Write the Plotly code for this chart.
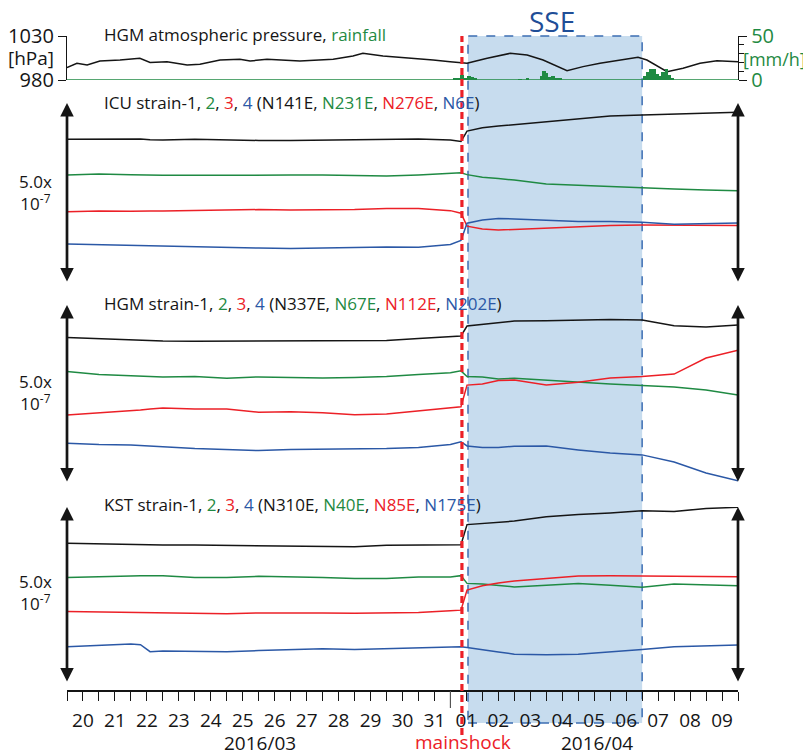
import plotly.graph_objects as go

# ---------------- data ----------------
# time axis: days since 2016/03/20 00:00
days = [0, 1, 2, 2.3, 2.6, 3, 4, 5, 6, 7, 8, 9, 10, 11, 12, 12.33, 12.52,
        13, 13.5, 14, 15, 16, 17, 18, 19, 20, 21]

# strain (relative, x1e-7)
icu_1 = [3.99, 4.00, 4.01, 4.00, 3.98, 3.97, 3.99, 3.97, 3.96, 3.96, 3.97, 3.99, 4.01, 4.00, 3.97, 3.93, 4.22,
         4.31, 4.36, 4.40, 4.46, 4.54, 4.64, 4.67, 4.69, 4.72, 4.74]
icu_2 = [3.00, 3.03, 3.01, 3.00, 3.00, 2.99, 2.99, 3.00, 2.99, 3.00, 3.00, 2.99, 2.97, 3.00, 3.04, 3.06, 3.01,
         2.94, 2.90, 2.86, 2.75, 2.71, 2.68, 2.64, 2.61, 2.58, 2.56]
icu_3 = [1.98, 2.00, 1.99, 2.00, 2.00, 2.00, 2.01, 2.04, 2.04, 2.03, 2.03, 2.04, 2.07, 2.07, 2.01, 1.94, 1.58,
         1.50, 1.47, 1.49, 1.53, 1.57, 1.60, 1.61, 1.60, 1.61, 1.60]
icu_4 = [1.08, 1.06, 1.04, 1.03, 1.02, 1.01, 1.00, 0.99, 0.97, 0.96, 0.97, 1.00, 1.00, 0.99, 1.07, 1.18, 1.66,
         1.75, 1.79, 1.78, 1.74, 1.71, 1.71, 1.69, 1.63, 1.65, 1.67]

hgm_1 = [4.09, 4.06, 4.02, 4.01, 4.00, 3.99, 3.98, 3.98, 3.99, 3.98, 3.99, 3.98, 4.00, 4.06, 4.10, 4.13, 4.41,
         4.45, 4.49, 4.55, 4.56, 4.58, 4.59, 4.58, 4.42, 4.38, 4.44]
hgm_2 = [3.13, 3.05, 3.01, 3.00, 2.99, 2.98, 2.99, 2.94, 2.98, 2.96, 2.95, 2.96, 2.99, 3.05, 3.10, 3.15, 2.99,
         2.98, 2.92, 2.94, 2.88, 2.84, 2.78, 2.74, 2.70, 2.61, 2.47]
hgm_3 = [1.91, 1.97, 2.02, 2.05, 2.08, 2.11, 2.08, 2.08, 1.99, 2.00, 1.97, 1.92, 1.94, 2.02, 2.11, 2.14, 2.75,
         2.78, 2.88, 2.89, 2.75, 2.83, 2.95, 2.99, 3.06, 3.51, 3.73]
hgm_4 = [1.12, 1.08, 1.07, 1.06, 1.04, 1.02, 0.97, 0.93, 0.91, 0.94, 0.95, 0.95, 0.97, 1.00, 1.08, 1.16, 1.04,
         1.00, 1.00, 1.03, 1.04, 0.93, 0.84, 0.79, 0.59, 0.28, 0.06]

kst_1 = [3.97, 3.95, 3.93, 3.93, 3.92, 3.92, 3.92, 3.91, 3.89, 3.89, 3.88, 3.87, 3.91, 3.92, 3.91, 3.93, 4.50,
         4.53, 4.55, 4.60, 4.72, 4.79, 4.83, 4.89, 4.87, 4.96, 4.99]
kst_2 = [3.00, 3.01, 3.04, 3.05, 3.05, 3.05, 3.00, 3.00, 3.03, 3.02, 3.00, 2.97, 2.97, 3.01, 3.01, 3.05, 2.83,
         2.81, 2.78, 2.73, 2.78, 2.83, 2.78, 2.72, 2.81, 2.78, 2.76]
kst_3 = [2.03, 2.02, 2.01, 2.01, 2.00, 2.00, 1.99, 1.97, 1.99, 2.00, 1.99, 1.98, 1.98, 2.00, 2.05, 2.07, 2.64,
         2.76, 2.84, 2.90, 2.97, 3.04, 3.05, 3.04, 3.03, 3.01, 3.02]
kst_4 = [1.03, 1.07, 1.11, 1.09, 0.89, 0.91, 0.91, 0.89, 0.92, 0.94, 0.97, 0.95, 0.97, 0.99, 1.02, 1.03, 1.01,
         0.94, 0.88, 0.82, 0.80, 0.82, 0.88, 0.95, 1.03, 1.05, 1.08]

# HGM atmospheric pressure (hPa)
press_days = [0, 0.31, 0.63, 1.03, 1.66, 2.28, 2.6, 3.13, 3.76, 4.16, 4.79, 5.41, 5.73, 6.26, 7.29, 8.33,
              8.95, 9.26, 9.89, 10.4, 11.46, 11.99, 12.52, 13.15, 13.87, 14.4, 14.9, 15.65, 16.15, 16.68,
              17.31, 17.87, 18.15, 18.78, 19.28, 19.81, 20.34, 21]
press_hpa = [994, 999, 997, 1001.6, 1002.7, 1004.6, 1000, 1000.8, 997, 997.8, 1002.7, 1003.5, 1001.6, 1003.5,
             1001.6, 1003.5, 1007.3, 1010.3, 1007.3, 1006, 1002.7, 1000.8, 999, 1004.6, 1010.3, 1008.4, 1002.7,
             990.6, 995.2, 999, 1002.7, 1005.8, 1002.7, 989.5, 993.3, 999, 1002, 1000.8]

# HGM rainfall (mm/h)
rain_days = [12.14, 12.27, 12.36, 12.49, 12.58, 12.68, 12.77, 14.18, 14.4, 14.84, 14.93, 14.99, 15.09, 15.21,
             15.31, 15.43, 18.09, 18.18, 18.28, 18.37, 18.47, 18.56, 18.65, 18.75, 18.84, 18.94]
rain_mm = [1.5, 2, 5.5, 2.5, 4, 3, 1.5, 1, 2, 5, 10.5, 8, 3, 4, 2.5, 1.5, 5, 9, 13, 12, 7, 5, 9, 13, 6, 2]

tick_labels = ["20", "21", "22", "23", "24", "25", "26", "27", "28", "29", "30", "31",
               "01", "02", "03", "04", "05", "06", "07", "08", "09"]
mainshock_day = 12.36
sse_start, sse_end = 12.55, 18.0
scale_bar = 5.0  # x1e-7

# ---------------- style ----------------
BLACK = "#151515"
GREEN = "#1f8a43"
RED = "#ec2027"
BLUE = "#2b58a6"
SSEBLUE = "#1f4e97"
FONT = "Open Sans"

# page body has an 8px default margin: the figure is sized so it fits the window
OFF = 8
W, H = 811 - OFF, 755 - OFF
X0, X1 = 67, 738        # plot area left/right in window pixels
Y0, Y1 = OFF, 691       # plot area top/bottom in window pixels
ML = X0 - OFF
MR = W - (X1 - OFF)
MT = Y0 - OFF
MB = H - (Y1 - OFF)
PW = X1 - X0
PH = Y1 - Y0


def px(xp):
    return (xp - X0) / PW


def py(yp):
    return (Y1 - yp) / PH


def dom(top, bot):
    return [py(bot), py(top)]


fig = go.Figure()

fig.add_trace(go.Scatter(x=press_days, y=press_hpa, mode="lines", line=dict(color=BLACK, width=1.5),
                         xaxis="x", yaxis="y", showlegend=False))
fig.add_trace(go.Bar(x=rain_days, y=rain_mm, marker=dict(color=GREEN, line=dict(width=0)), width=0.1,
                     xaxis="x", yaxis="y2", showlegend=False))

panels = [("y3", [icu_1, icu_2, icu_3, icu_4]),
          ("y4", [hgm_1, hgm_2, hgm_3, hgm_4]),
          ("y5", [kst_1, kst_2, kst_3, kst_4])]
colors = [BLACK, GREEN, RED, BLUE]
for yax, series in panels:
    for s, c in zip(series, colors):
        fig.add_trace(go.Scatter(x=days, y=s, mode="lines", line=dict(color=c, width=1.5),
                                 xaxis="x", yaxis=yax, showlegend=False))

tickvals = [i * 0.5 for i in range(43)]
ticktext = [tick_labels[i // 2] if i % 2 == 1 else "" for i in range(43)]

strain_ax = dict(range=[0, 5], visible=False, fixedrange=True)

fig.update_layout(
    width=W, height=H,
    margin=dict(l=ML, r=MR, t=MT, b=MB, autoexpand=False),
    paper_bgcolor="white", plot_bgcolor="rgba(0,0,0,0)",
    font=dict(family=FONT, color=BLACK, size=18),
    bargap=0,
    xaxis=dict(range=[0, 21], anchor="free", position=0, showline=True, linecolor=BLACK, linewidth=1.5,
               ticks="outside", ticklen=9, tickwidth=1.2, tickcolor=BLACK, tickvals=tickvals,
               ticktext=ticktext, tickfont=dict(size=19, color=BLACK, family=FONT), showgrid=False,
               zeroline=False, ticklabelstandoff=3, automargin=False),
    yaxis=dict(domain=dom(36, 80), range=[980, 1030], anchor="x", showline=True, linecolor=BLACK,
               linewidth=1.3, ticks="outside", ticklen=8, tickcolor=BLACK, tickvals=[980, 1030],
               tickfont=dict(size=20, color=BLACK, family=FONT), showgrid=False, zeroline=False,
               automargin=False),
    yaxis2=dict(overlaying="y", side="right", anchor="x", range=[0, 50], showline=True, linecolor=BLACK,
                linewidth=1.3, ticks="outside", ticklen=8, tickcolor=BLACK, tickvals=[0, 50],
                tickfont=dict(size=20, color=GREEN, family=FONT), showgrid=False, zeroline=False,
                automargin=False,
                minor=dict(ticks="outside", ticklen=5, tickcolor=BLACK, dtick=10, tick0=0)),
    yaxis3=dict(domain=dom(103, 283), **strain_ax),
    yaxis4=dict(domain=dom(305, 483), **strain_ax),
    yaxis5=dict(domain=dom(507, 683), **strain_ax),
)

shapes = [
    dict(type="rect", xref="x", yref="paper", x0=sse_start, x1=sse_end, y0=py(723), y1=py(36),
         fillcolor="#c7dcee", line=dict(color="#3c6db3", width=1.5, dash="dash"), layer="below"),
    dict(type="line", xref="x", yref="y2", x0=0, x1=21, y0=0, y1=0, line=dict(color=GREEN, width=1.5)),
    dict(type="line", xref="x", yref="paper", x0=12, x1=12, y0=0, y1=py(708),
         line=dict(color="#555555", width=1.2)),
    dict(type="line", xref="x", yref="paper", x0=mainshock_day, x1=mainshock_day, y0=py(735), y1=py(36),
         line=dict(color=RED, width=3.2, dash="7px,4px"), layer="above"),
]
fig.update_layout(shapes=shapes)


def col(t, c):
    return f'<span style="color:{c}">{t}</span>'


titles = [
    ("HGM atmospheric pressure, " + col("rainfall", GREEN), 35),
    ("ICU strain-1, " + col("2", GREEN) + ", " + col("3", RED) + ", " + col("4", BLUE) + " (N141E, "
     + col("N231E", GREEN) + ", " + col("N276E", RED) + ", " + col("N6E", BLUE) + ")", 103),
    ("HGM strain-1, " + col("2", GREEN) + ", " + col("3", RED) + ", " + col("4", BLUE) + " (N337E, "
     + col("N67E", GREEN) + ", " + col("N112E", RED) + ", " + col("N202E", BLUE) + ")", 303),
    ("KST strain-1, " + col("2", GREEN) + ", " + col("3", RED) + ", " + col("4", BLUE) + " (N310E, "
     + col("N40E", GREEN) + ", " + col("N85E", RED) + ", " + col("N175E", BLUE) + ")", 505),
]
ann = []
for t, yc in titles:
    ann.append(dict(text=t, xref="paper", yref="paper", x=px(102), y=py(yc), xanchor="left",
                    yanchor="middle", showarrow=False, font=dict(size=17, color=BLACK, family=FONT)))

for yc in (192, 392, 592):
    ann.append(dict(text="5.0x<br>10<sup>-7</sup>", xref="paper", yref="paper", x=px(35), y=py(yc),
                    xanchor="center", yanchor="middle", showarrow=False,
                    font=dict(size=17, color=BLACK, family=FONT)))

for yax in ("y3", "y4", "y5"):
    for xv in (0, 21):
        ann.append(dict(text="", xref="x", yref=yax, axref="x", ayref=yax, x=xv, y=scale_bar, ax=xv, ay=0,
                        showarrow=True, arrowhead=2, startarrowhead=2, arrowside="end+start",
                        arrowwidth=2.7, arrowsize=1, startarrowsize=1, arrowcolor=BLACK, standoff=0,
                        startstandoff=0))

ann += [
    dict(text="[hPa]", xref="paper", yref="paper", x=px(31), y=py(58), xanchor="center", yanchor="middle",
         showarrow=False, font=dict(size=19, color=BLACK, family=FONT)),
    dict(text="[mm/h]", xref="paper", yref="paper", x=px(774), y=py(59), xanchor="center",
         yanchor="middle", showarrow=False, font=dict(size=18, color=GREEN, family=FONT)),
    dict(text="SSE", xref="paper", yref="paper", x=px(552), y=py(21), xanchor="center", yanchor="middle",
         showarrow=False, font=dict(size=28, color=SSEBLUE, family=FONT)),
    dict(text="mainshock", xref="paper", yref="paper", x=px(463), y=py(742), xanchor="center",
         yanchor="middle", showarrow=False, font=dict(size=19, color=RED, family=FONT)),
    dict(text="2016/03", xref="paper", yref="paper", x=px(260), y=py(743), xanchor="center",
         yanchor="middle", showarrow=False, font=dict(size=19, color=BLACK, family=FONT)),
    dict(text="2016/04", xref="paper", yref="paper", x=px(597), y=py(743), xanchor="center",
         yanchor="middle", showarrow=False, font=dict(size=19, color=BLACK, family=FONT)),
]
fig.update_layout(annotations=ann)

fig.write_html("out.html")
